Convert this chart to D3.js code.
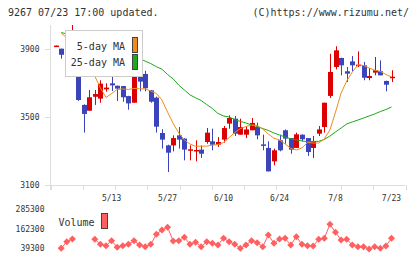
<!DOCTYPE html>
<html>
<head>
<meta charset="utf-8">
<script src="https://cdn.jsdelivr.net/npm/d3@7"></script>
<style>
    body { margin: 0; background: #fff; }
    svg { display: block; }
    text { font-family: 'DejaVu Sans Mono', monospace; fill: #333; }
</style>
</head>
<body>
<div id="chart"></div>
<script>
const dates = ['4/24','4/25','4/26','4/30','5/1','5/2','5/7','5/8','5/9','5/10',
    '5/13','5/14','5/15','5/16','5/17','5/20','5/21','5/22','5/23','5/24',
    '5/27','5/28','5/29','5/30','5/31','6/3','6/4','6/5','6/6','6/7',
    '6/10','6/11','6/12','6/13','6/14','6/17','6/18','6/19','6/20','6/21',
    '6/24','6/25','6/26','6/27','6/28','7/1','7/2','7/3','7/4','7/5',
    '7/8','7/9','7/10','7/11','7/12','7/16','7/17','7/18','7/19','7/22','7/23']
const dateLabels = ['5/13', '5/27', '6/10', '6/24', '7/8', '7/23']

const open = [3915,3902,3880,3972,3802,3571,3537,3619,3608,3663,
    3698,3684,3682,3623,3584,3776,3753,3657,3614,3406,
    3333,3333,3392,3373,3304,3298,3308,3353,3357,3337,
    3367,3461,3490,3396,3396,3422,3441,3339,3318,3239,
    3363,3422,3376,3318,3396,3376,3318,3402,3441,3624,
    3794,3847,3769,3827,3800,3804,3729,3761,3769,3712,3733]
const high = [3920,3902,3971,4041,3805,3575,3659,3659,3716,3698,
    3820,3684,3682,3625,3802,3796,3772,3659,3620,3428,
    3337,3392,3441,3376,3333,3363,3333,3435,3431,3382,
    3447,3510,3506,3490,3447,3494,3467,3396,3357,3314,
    3396,3427,3376,3408,3398,3376,3388,3447,3584,3872,
    3916,3849,3794,3859,3886,3824,3788,3853,3833,3714,3775]
const low = [3915,3843,3864,3972,3595,3408,3537,3571,3584,3649,
    3653,3594,3590,3543,3584,3651,3651,3584,3408,3314,
    3176,3298,3314,3245,3245,3239,3259,3343,3304,3324,
    3349,3431,3388,3396,3376,3422,3369,3304,3180,3216,
    3298,3343,3284,3318,3357,3271,3259,3388,3408,3612,
    3780,3745,3706,3769,3794,3716,3716,3745,3745,3651,3706]
const close = [3920,3866,3958,4008,3600,3518,3616,3635,3696,3673,
    3686,3667,3616,3580,3796,3708,3669,3590,3443,3367,
    3290,3376,3367,3308,3310,3306,3284,3408,3337,3353,
    3435,3494,3402,3441,3427,3465,3392,3337,3180,3304,
    3304,3373,3308,3398,3369,3294,3357,3427,3584,3765,
    3892,3804,3755,3804,3808,3731,3741,3775,3745,3690,3737]

const ma5 = [null,3994,3965,3941,3894,3847,3800,3741,3671,3615,
    3638,3662,3665,3662,3668,3666,3665,3653,3638,3600,
    3529,3462,3406,3365,3341,3328,3328,3329,3334,3338,
    3350,3379,3409,3432,3444,3453,3450,3429,3400,3375,
    3365,3341,3315,3306,3318,3350,3347,3347,3371,3424,
    3529,3641,3712,3765,3806,3803,3788,3776,3768,3750,3735]
const ma25 = [null,3997,3988,3976,3965,3953,3941,3929,3918,3906,
    3894,3882,3871,3862,3853,3843,3829,3814,3796,3781,
    3750,3724,3688,3659,3630,3613,3597,3573,3550,3521,
    3506,3500,3485,3474,3465,3453,3444,3432,3421,3406,
    3394,3382,3372,3365,3359,3355,3356,3357,3368,3388,
    3412,3435,3459,3471,3482,3494,3506,3518,3532,3544,3559]

const volume = [null,39300,80600,97500,null,null,null,95600,64300,55600,
    86900,45600,55600,64300,86900,60000,49300,64300,127000,153900,
    170700,85000,86900,108200,64300,76900,49300,80600,70600,60000,
    101900,80600,64300,39300,60000,86900,74400,49300,122500,70600,
    97500,101900,60000,112000,64300,55600,53700,95600,101900,189500,
    139400,91300,95600,60000,49300,49300,35000,49300,39300,53700,101900]

const priceTicks = [3100, 3500, 3900]
const volumeTicks = [39300, 162300, 285300]

const width = 420
const height = 259
const upColor = '#dd0000'
const downColor = '#3c44bb'
const ma5Color = '#f08c1a'
const ma25Color = '#1aaa1a'
const volColor = '#ff5f5f'

const svg = d3.select('#chart')
    .append('svg')
    .attr('width', width)
    .attr('height', height)

svg.append('text')
    .attr('x', 8)
    .attr('y', 16)
    .style('font-size', '10px')
    .text('9267 07/23 17:00 updated.')

svg.append('text')
    .attr('x', 409)
    .attr('y', 16)
    .attr('text-anchor', 'end')
    .style('font-size', '10px')
    .text('(C)https://www.rizumu.net/')

const x = d3.scalePoint()
    .domain(dates)
    .range([55.6, 391.5])

const y = d3.scaleLinear()
    .domain([3100, 3900])
    .range([185, 49])

const yVol = d3.scaleLinear()
    .domain([39300, 285300])
    .range([248.3, 209])

// axis frame
const grid = svg.append('g')
    .attr('stroke', '#dddddd')
    .attr('shape-rendering', 'crispEdges')

grid.append('line')
    .attr('x1', 50.5).attr('x2', 50.5)
    .attr('y1', 25).attr('y2', 190)

grid.append('line')
    .attr('x1', 45).attr('x2', 405)
    .attr('y1', y(3100) + 0.5).attr('y2', y(3100) + 0.5)

grid.selectAll('.ytick')
    .data(priceTicks)
    .join('line')
    .attr('x1', 45).attr('x2', 50)
    .attr('y1', d => Math.round(y(d)) + 0.5)
    .attr('y2', d => Math.round(y(d)) + 0.5)

const tickScale = d3.scaleLinear().domain([0, 11]).range([50.5, 405.5])
grid.selectAll('.xtick')
    .data(d3.range(12))
    .join('line')
    .attr('x1', d => Math.round(tickScale(d)) + 0.5)
    .attr('x2', d => Math.round(tickScale(d)) + 0.5)
    .attr('y1', 185).attr('y2', 190)

svg.selectAll('.ylabel')
    .data(priceTicks)
    .join('text')
    .attr('x', 39.5)
    .attr('y', d => y(d) + 3)
    .attr('text-anchor', 'end')
    .style('font-size', '8px')
    .text(d => d)

svg.selectAll('.xlabel')
    .data(dateLabels)
    .join('text')
    .attr('x', d => x(d))
    .attr('y', 201)
    .attr('text-anchor', 'middle')
    .style('font-size', '8px')
    .text(d => d)

// candles
const candles = svg.append('g')
    .selectAll('g')
    .data(dates.map((d, i) => ({date: d, o: open[i], h: high[i], l: low[i], c: close[i]})))
    .join('g')

candles.append('line')
    .attr('x1', d => Math.round(x(d.date)) + 0.5)
    .attr('x2', d => Math.round(x(d.date)) + 0.5)
    .attr('y1', d => y(d.h))
    .attr('y2', d => y(d.l))
    .attr('stroke', d => d.c >= d.o ? upColor : downColor)
    .attr('stroke-width', 1)

candles.append('rect')
    .attr('x', d => Math.round(x(d.date)) - 2)
    .attr('width', 5)
    .attr('y', d => y(Math.max(d.o, d.c)))
    .attr('height', d => Math.max(1.5, Math.abs(y(d.o) - y(d.c))))
    .attr('fill', d => d.c >= d.o ? upColor : downColor)

// moving averages
const line = d3.line()
    .defined(d => d[1] !== null)
    .x(d => x(d[0]))
    .y(d => y(d[1]))

svg.append('path')
    .datum(dates.map((d, i) => [d, ma25[i]]))
    .attr('d', line)
    .attr('fill', 'none')
    .attr('stroke', ma25Color)
    .attr('stroke-width', 1)

svg.append('path')
    .datum(dates.map((d, i) => [d, ma5[i]]))
    .attr('d', line)
    .attr('fill', 'none')
    .attr('stroke', ma5Color)
    .attr('stroke-width', 1)

// legend
const legend = svg.append('g')

legend.append('rect')
    .attr('x', 65.5).attr('y', 30.5)
    .attr('width', 77).attr('height', 46)
    .attr('fill', '#fff')
    .attr('stroke', '#cccccc')

legend.selectAll('text')
    .data(['5-day MA', '25-day MA'])
    .join('text')
    .attr('x', 125)
    .attr('y', (d, i) => 49.5 + i * 16.5)
    .attr('text-anchor', 'end')
    .style('font-size', '10px')
    .text(d => d)

legend.selectAll('.swatch')
    .data([ma5Color, ma25Color])
    .join('rect')
    .attr('x', 132.5)
    .attr('y', (d, i) => 37.5 + i * 17)
    .attr('width', 5).attr('height', 15)
    .attr('fill', d => d)
    .attr('stroke', '#444')

// volume
svg.selectAll('.vlabel')
    .data(volumeTicks)
    .join('text')
    .attr('x', 44.5)
    .attr('y', d => yVol(d) + 3)
    .attr('text-anchor', 'end')
    .style('font-size', '8px')
    .text(d => d)

svg.append('text')
    .attr('x', 58.5)
    .attr('y', 225.5)
    .style('font-size', '10px')
    .text('Volume')

svg.append('rect')
    .attr('x', 101.5).attr('y', 213.5)
    .attr('width', 6).attr('height', 15)
    .attr('fill', volColor)
    .attr('stroke', '#444')

const volData = dates.map((d, i) => [d, volume[i]])

svg.append('path')
    .datum(volData)
    .attr('d', d3.line()
        .defined(d => d[1] !== null)
        .x(d => x(d[0]))
        .y(d => yVol(d[1])))
    .attr('fill', 'none')
    .attr('stroke', volColor)
    .attr('stroke-width', 1)

svg.selectAll('.vpoint')
    .data(volData.filter(d => d[1] !== null))
    .join('path')
    .attr('d', d => {
        const cx = x(d[0])
        const cy = yVol(d[1])
        return `M${cx},${cy - 3.5}L${cx + 3.5},${cy}L${cx},${cy + 3.5}L${cx - 3.5},${cy}Z`
    })
    .attr('fill', volColor)
</script>
</body>
</html>
